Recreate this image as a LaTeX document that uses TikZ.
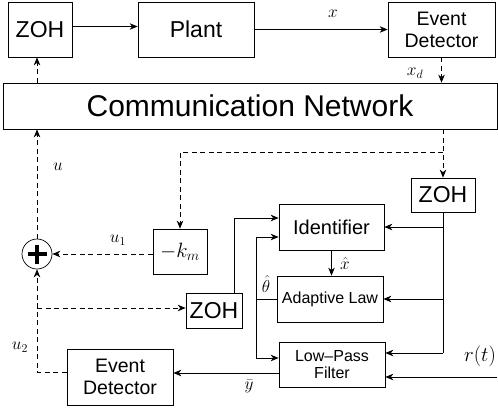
\documentclass[tikz,border=0pt]{standalone}
\usepackage{fontspec}
\setmainfont{Liberation Sans}
\usetikzlibrary{arrows.meta,calc}
\begin{document}
\begin{tikzpicture}[x=1pt,y=-1pt,
  >={Stealth[length=8pt,width=6.5pt,inset=2.5pt]},
  blk/.style={draw,line width=0.7pt,inner sep=0pt,align=center},
  ln/.style={line width=0.7pt},
  dsh/.style={line width=0.7pt,dash pattern=on 5pt off 3.5pt},
  lbl/.style={font=\fontsize{18}{20}\selectfont,inner sep=0pt}]
\useasboundingbox (0,0) rectangle (498,413);

% blocks
\node[blk,minimum width=64pt,minimum height=55pt,font=\fontsize{23}{26}\selectfont] (zohA) at (40,29.5) {ZOH};
\node[blk,minimum width=116pt,minimum height=55pt,font=\fontsize{23}{26}\selectfont] (plant) at (196,29.5) {Plant};
\node[blk,minimum width=107pt,minimum height=55pt,font=\fontsize{19.5}{22}\selectfont] (edA) at (441.5,29.5) {Event\\Detector};
\node[blk,minimum width=494pt,minimum height=46pt,font=\fontsize{30}{34}\selectfont] (net) at (250,106) {Communication Network};
\node[blk,minimum width=64pt,minimum height=34pt,font=\fontsize{23}{26}\selectfont] (zohB) at (443,195) {ZOH};
\node[blk,minimum width=54pt,minimum height=45pt,font=\fontsize{21}{24}\selectfont] (kbox) at (180,251.5) {$-k_m$};
\node[draw,circle,line width=0.7pt,minimum size=30pt,inner sep=0pt] (sum) at (37,254) {};
\draw[line width=3.2pt] ($(sum)+(-9.5,0)$) -- ($(sum)+(9.5,0)$) ($(sum)+(0,-9.5)$) -- ($(sum)+(0,9.5)$);
\node[blk,minimum width=105pt,minimum height=46pt,font=\fontsize{20}{22}\selectfont] (ident) at (331.5,227) {Identifier};
\node[blk,minimum width=106pt,minimum height=46pt,font=\fontsize{16}{18}\selectfont] (adapt) at (330,299) {Adaptive Law};
\node[blk,minimum width=106pt,minimum height=45pt,font=\fontsize{16}{17}\selectfont] (lpf) at (332,364.5) {Low–Pass\\Filter};
\node[blk,minimum width=56pt,minimum height=35pt,font=\fontsize{23}{26}\selectfont] (zohC) at (214,311) {ZOH};
\node[blk,minimum width=106pt,minimum height=56pt,font=\fontsize{19.5}{22}\selectfont] (edB) at (120,377) {Event\\Detector};

% helper points
\coordinate (br) at (443,152);
\coordinate (rt) at (443,353);
\coordinate (tt) at (256,237);
\coordinate (tb) at (256,358);
\coordinate (rin) at (497,377);
\coordinate (tap) at (37,308);

% plant loop
\draw[ln,->] ($(zohA.east)+(0,-3)$) -- ($(plant.west)+(0,-3)$);
\draw[ln,->] (plant) -- (edA);
\node[lbl] at (333,14) {$x$};
\draw[dsh,->] (edA.south) -- (edA.south |- net.north);
\node[lbl] at (415,73) {$x_d$};
\draw[dsh,->] (net.north -| sum) -- (zohA.south -| sum);

% control signal
\draw[dsh,->] (sum.north) -- (sum |- net.south);
\node[lbl] at (58,167) {$u$};
\draw[dsh,->] (net.south -| zohB) -- (zohB.north);
\draw[dsh,->] (br) -| (kbox.north);
\draw[dsh,->] (kbox.west |- sum) -- (sum.east);
\node[lbl] at (118,240) {$u_1$};

% identification part
\draw[ln] (zohB.south) -- (rt);
\draw[ln,->] (zohB |- ident) -- (ident.east);
\draw[ln,->] (zohB |- adapt) -- (adapt.east);
\draw[ln,->] (rt) -- (rt -| lpf.east);
\draw[ln,->] (ident.south) -- (ident.south |- adapt.north);
\node[lbl] at (345,263) {$\hat{x}$};
\draw[ln,->] ($(zohC.north)+(20,0)$) |- ($(ident.west)+(0,-9)$);
\draw[ln] (adapt.west) -- (adapt.west -| tt);
\draw[ln,->] (tt) -- (tt -| ident.west);
\draw[ln] (tt) -- (tb);
\draw[ln,->] (tb) -- (tb -| lpf.west);
\node[lbl] at (266,284) {$\hat{\theta}$};
\draw[ln,->] (rin) -- (rin -| lpf.east);
\node[lbl,font=\fontsize{21}{24}\selectfont] at (480,356) {$r(t)$};
\draw[ln,->] ($(lpf.west)+(0,8.5)$) -- ($(edB.east)+(0,-4)$);
\node[lbl] at (249,386) {$\bar{y}$};

% event-triggered feedback
\draw[dsh,->] ($(edB.west)+(0,-5)$) -| (sum.south);
\draw[dsh,->] (tap) -- (tap -| zohC.west);
\node[lbl] at (20,347) {$u_2$};
\end{tikzpicture}
\end{document}
